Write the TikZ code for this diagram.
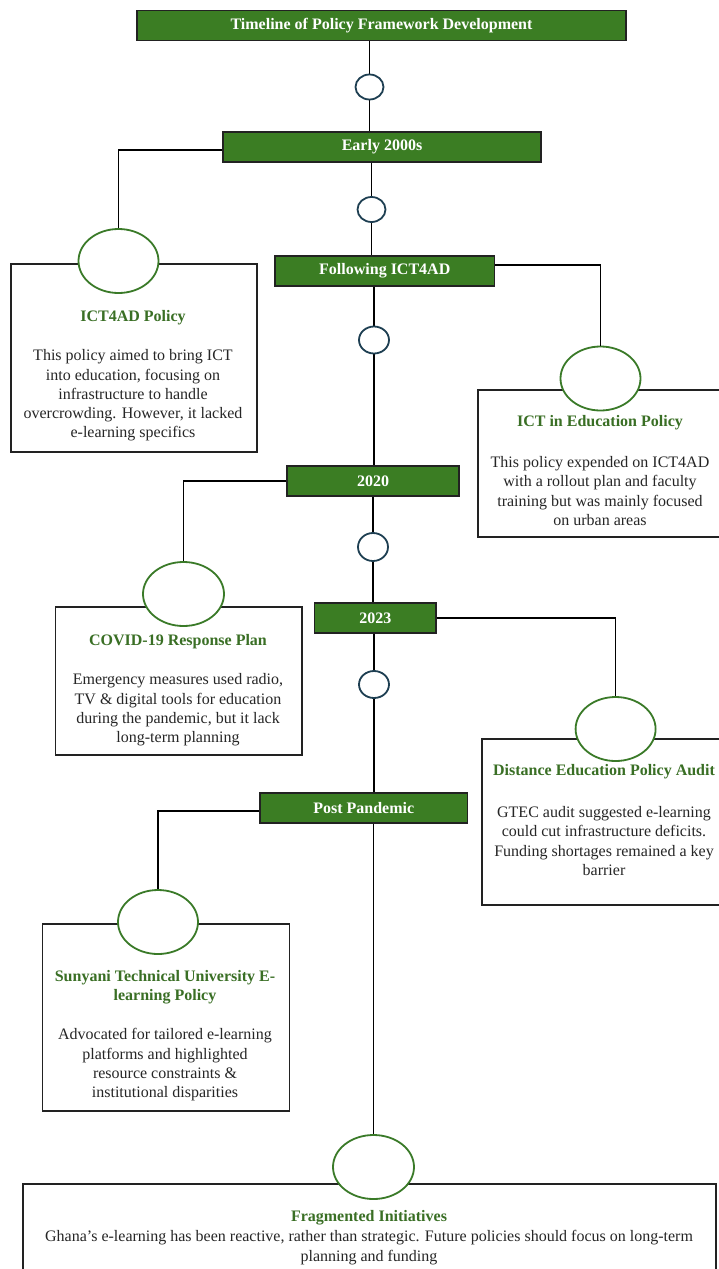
\documentclass[tikz,border=0pt]{standalone}
\usepackage{fontspec}
\setmainfont{Liberation Serif}
\usetikzlibrary{shapes.geometric,calc}
\definecolor{tlgreen}{HTML}{3B7D23}
\definecolor{ttgreen}{HTML}{3A6F25}
\definecolor{cgreen}{HTML}{3A7A28}
\definecolor{slate}{HTML}{1E3F52}
\definecolor{edge}{HTML}{222222}
\begin{document}
\begin{tikzpicture}[x=1pt,y=-1pt,
  font=\fontsize{16}{19.3}\selectfont,
  tlbox/.style={draw=edge,line width=1.1pt,fill=tlgreen,text=white,font=\fontsize{16}{19.3}\selectfont\bfseries,inner sep=0pt,minimum height=30pt},
  cbox/.style={draw=edge,line width=1.5pt,fill=white,inner sep=0pt},
  dot/.style={ellipse,draw=slate,line width=1.8pt,fill=white,inner sep=0pt},
  gcirc/.style={ellipse,draw=cgreen,line width=1.8pt,fill=white,inner sep=0pt,minimum width=80pt,minimum height=64pt},
  ttl/.style={text=ttgreen,font=\fontsize{16}{19.3}\selectfont\bfseries,align=center,inner sep=0pt},
  body/.style={text=black!85,align=center,inner sep=0pt},
  conn/.style={draw=black,line width=1.5pt}]
\useasboundingbox (0,0) rectangle (718,1269);
\fill[white] (0,0) rectangle (718,1269);

% content boxes
\node[cbox,anchor=north west,minimum width=246pt,minimum height=188pt] (b1) at (10,263) {};
\node[cbox,anchor=north west,minimum width=246pt,minimum height=147pt] (b2) at (477,389) {};
\node[cbox,anchor=north west,minimum width=246.5pt,minimum height=148pt] (b3) at (54.5,606) {};
\node[cbox,anchor=north west,minimum width=246pt,minimum height=166pt] (b4) at (481,738) {};
\node[cbox,anchor=north west,minimum width=246.8pt,minimum height=187pt] (b5) at (41.7,923) {};
\node[cbox,anchor=north west,minimum width=692.6pt,minimum height=120pt] (b6) at (22.4,1183) {};

% timeline boxes
\node[tlbox,minimum width=489pt] (tl) at (381.5,25.5) {Timeline of Policy Framework Development};
\node[tlbox,minimum width=318pt] (e2000) at (382,147) {Early 2000s};
\node[tlbox,minimum width=219.5pt] (fict) at (384.75,271) {Following ICT4AD};
\node[tlbox,minimum width=172pt] (y2020) at (373,481) {2020};
\node[tlbox,minimum width=121.5pt] (y2023) at (375.25,618) {2023};
\node[tlbox,minimum width=207.5pt] (post) at (363.75,808) {Post Pandemic};

% spine dots (positions)
\coordinate (p1) at (369.5,87);
\coordinate (p2) at (371.5,209.5);
\coordinate (p3) at (374,340);
\coordinate (p4) at (373,547);
\coordinate (p5) at (374,684.5);
\coordinate (p6) at (373.5,1167);

% spine connectors
\draw[conn] (p1 |- tl.south) -- (p1 |- e2000.north);
\draw[conn] (p2 |- e2000.south) -- (p2 |- fict.north);
\draw[conn] (p3 |- fict.south) -- (p3 |- y2020.north);
\draw[conn] (p4 |- y2020.south) -- (p4 |- y2023.north);
\draw[conn] (p5 |- y2023.south) -- (p5 |- post.north);

% green circles
\node[gcirc] (g1) at (118.5,261) {};
\node[gcirc] (g2) at (600.5,378.5) {};
\node[gcirc,minimum width=81pt] (g3) at (183.5,594) {};
\node[gcirc] (g4) at (615.6,729) {};
\node[gcirc] (g5) at (158,922) {};
\node[gcirc,minimum width=81pt] (g6) at (373.5,1167) {};

% side connectors
\draw[conn] ([yshift=-3pt]e2000.west) -| (g1.north);
\draw[conn] ([yshift=6pt]fict.east) -| (g2.north);
\draw[conn] (y2020.west) -| (g3.north);
\draw[conn] (y2023.east) -| (g4.north);
\draw[conn] ([yshift=-3pt]post.west) -| (g5.north);
\draw[conn] (g6.north |- post.south) -- (g6.north);

% small dots on the spine
\node[dot,minimum width=28pt,minimum height=25pt] (s1) at (p1) {};
\node[dot,minimum width=28pt,minimum height=25pt] (s2) at (p2) {};
\node[dot,minimum width=30pt,minimum height=27pt] (s3) at (p3) {};
\node[dot,minimum width=30pt,minimum height=28pt] (s4) at (p4) {};
\node[dot,minimum width=30pt,minimum height=27pt] (s5) at (p5) {};

% texts
\node[ttl] (t1) at (133,318) {ICT4AD Policy};
\node[body] (d1) at (133,395.5) {This policy aimed to bring ICT\\into education, focusing on\\infrastructure to handle\\overcrowding. However, it lacked\\e-learning specifics};

\node[ttl] (t2) at (600,423) {ICT in Education Policy};
\node[body] (d2) at (600,491) {This policy expended on ICT4AD\\with a rollout plan and faculty\\training but was mainly focused\\on urban areas};

\node[ttl] (t3) at (178,642) {COVID-19 Response Plan};
\node[body] (d3) at (178,710) {Emergency measures used radio,\\TV \& digital tools for education\\during the pandemic, but it lack\\long-term planning};

\node[ttl] (t4) at (604,772) {Distance Education Policy Audit};
\node[body] (d4) at (604,841) {GTEC audit suggested e-learning\\could cut infrastructure deficits.\\Funding shortages remained a key\\barrier};

\node[ttl] (t5) at (165,987.5) {Sunyani Technical University E-\\learning Policy};
\node[body] (d5) at (165,1065) {Advocated for tailored e-learning\\platforms and highlighted\\resource constraints \&\\institutional disparities};

\node[ttl] (t6) at (369,1218) {Fragmented Initiatives};
\node[body] (d6) at (369,1247.5) {Ghana’s e-learning has been reactive, rather than strategic. Future policies should focus on long-term\\planning and funding};
\end{tikzpicture}
\end{document}
